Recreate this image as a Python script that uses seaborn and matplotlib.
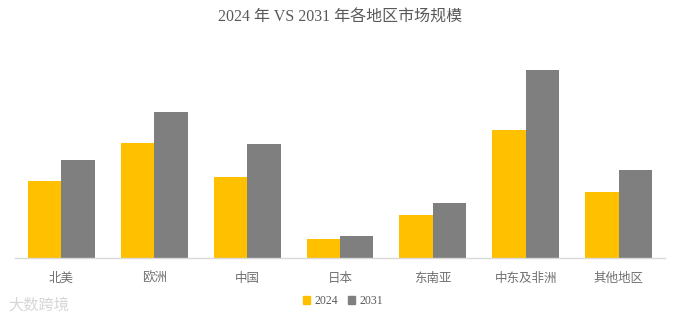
import matplotlib
matplotlib.use("Agg")
import matplotlib.pyplot as plt
import seaborn as sns
import pandas as pd

# Market size by region, 2024 vs 2031
regions = ["北美", "欧洲", "中国", "日本", "东南亚", "中东及非洲", "其他地区"]
size_2024 = [77, 115, 81, 19, 43, 128, 66]
size_2031 = [98, 146, 114, 22, 55, 188, 88]
years = ["2024", "2031"]

df = pd.DataFrame({
    "地区": regions * 2,
    "年份": [years[0]] * len(regions) + [years[1]] * len(regions),
    "规模": size_2024 + size_2031,
})

sns.set_theme(style="white")
plt.rcParams["font.family"] = ["Liberation Serif", "Noto Sans CJK SC", "DejaVu Sans"]

fig = plt.figure(figsize=(6.81, 3.22), dpi=100)
ax = fig.add_axes([15 / 681, 1 - 258 / 322, 650 / 681, 218 / 322])

palette = {"2024": "#FFC000", "2031": "#7F7F7F"}
sns.barplot(data=df, x="地区", y="规模", hue="年份", palette=palette,
            width=0.72, gap=0, saturation=1, ax=ax, legend=False,
            linewidth=0)

ax.set_xlim(-0.5, len(regions) - 0.5)
ax.set_ylim(0, 218)
ax.set_xlabel("")
ax.set_ylabel("")
ax.set_yticks([])
for side in ["top", "right", "left"]:
    ax.spines[side].set_visible(False)
ax.spines["bottom"].set_color("#D9D9D9")
ax.spines["bottom"].set_linewidth(1)
ax.tick_params(axis="x", length=0, pad=10, labelsize=9, labelcolor="#707070")
for lbl in ax.get_xticklabels():
    lbl.set_family(["Noto Sans CJK SC"])
    lbl.set_fontweight("light")

fig.text(0.5, 1 - 18 / 322, "2024 年 VS 2031 年各地区市场规模",
         ha="center", va="center", fontsize=11.5, color="#595959")

# Legend
handles = [plt.Rectangle((0, 0), 1, 1, color=palette[y]) for y in years]
fig.legend(handles, years, loc="center", bbox_to_anchor=(343 / 681, 1 - 301 / 322),
           ncol=2, frameon=False, fontsize=8.5, handlelength=0.6, handleheight=0.6,
           handletextpad=0.4, columnspacing=0.8, labelcolor="#595959")

# Watermark
fig.text(8 / 681, 1 - 305 / 322, "大数跨境", ha="left", va="center",
         fontsize=11, color="#D6D6D6", family=["Noto Sans CJK SC"])

fig.savefig("out.png", dpi=100, facecolor="white")
